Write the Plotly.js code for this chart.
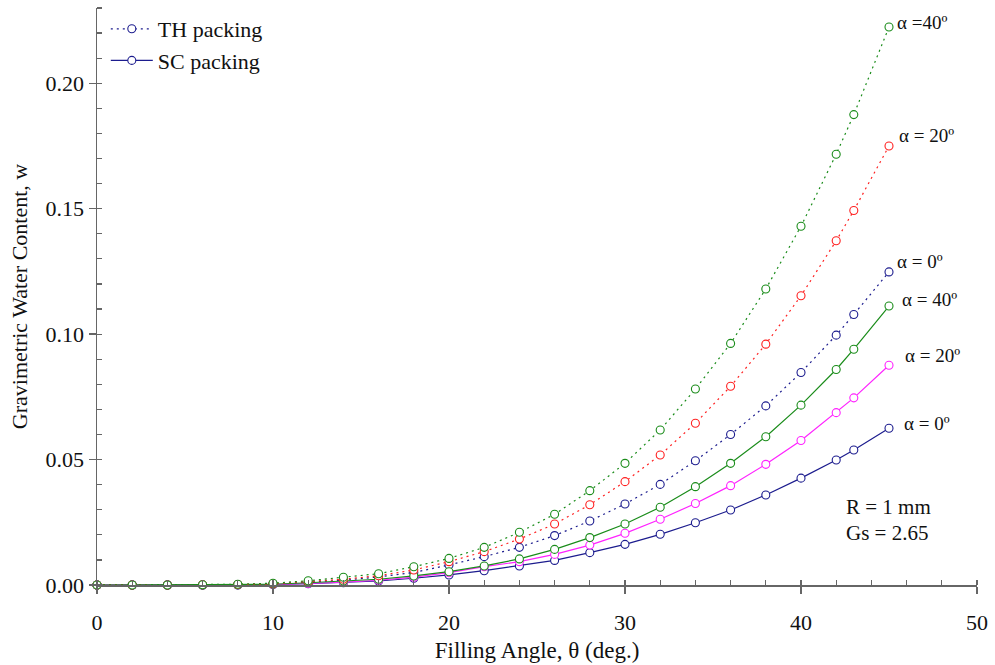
<!DOCTYPE html>
<html><head><meta charset="utf-8">
<script src="https://cdn.plot.ly/plotly-3.0.1.min.js"></script>
<style>html,body{margin:0;padding:0;background:#fff}#chart{width:995px;height:665px}</style>
</head><body><div id="chart"></div>
<script>
const theta = [0,2,4,6,8,10,12,14,16,18,20,22,24,26,28,30,32,34,36,38,40,42,43,45];
const th40 = [0,0,0,0.0001,0.0003,0.0007,0.0017,0.0031,0.0045,0.0073,0.0106,0.0150,0.0210,0.0282,0.0376,0.0485,0.0618,0.0781,0.0963,0.1180,0.1430,0.1717,0.1875,0.2224];
const th20 = [0,0,0,0.0001,0.0002,0.0005,0.0013,0.0023,0.0037,0.0060,0.0093,0.0133,0.0183,0.0243,0.0320,0.0412,0.0518,0.0645,0.0792,0.0960,0.1153,0.1372,0.1493,0.1750];
const th0  = [0,0,0,0,0.0001,0.0004,0.0010,0.0019,0.0032,0.0050,0.0080,0.0113,0.0150,0.0197,0.0255,0.0323,0.0401,0.0495,0.0600,0.0714,0.0847,0.0996,0.1078,0.1248];
const sc40 = [0,0,0,0,0.0001,0.0003,0.0009,0.0016,0.0023,0.0036,0.0053,0.0076,0.0104,0.0142,0.0189,0.0243,0.0310,0.0392,0.0485,0.0591,0.0717,0.0859,0.0940,0.1112];
const sc20 = [0,0,0,0,0.0001,0.0002,0.0006,0.0011,0.0019,0.0031,0.0049,0.0073,0.0093,0.0122,0.0159,0.0206,0.0262,0.0325,0.0396,0.0481,0.0576,0.0687,0.0746,0.0876];
const sc0  = [0,0,0,0,0,0.0002,0.0005,0.0009,0.0016,0.0027,0.0040,0.0057,0.0076,0.0098,0.0129,0.0162,0.0202,0.0248,0.0299,0.0359,0.0426,0.0498,0.0538,0.0625];
const labels = [
  {y: th40, text: "α =40º", dx: 6, dy: -5},
  {y: th20, text: "α = 20º", dx: 8, dy: -10},
  {y: th0,  text: "α = 0º", dx: 6, dy: -10},
  {y: sc40, text: "α = 40º", dx: 11, dy: -7},
  {y: sc20, text: "α = 20º", dx: 14, dy: -10},
  {y: sc0,  text: "α = 0º", dx: 13, dy: -5}
];
const NAVY = "#1c1c8e", GREEN = "#1a8c1a", RED = "#ff2020", MAG = "#ff22ff";
function tr(y, color, dash, name, show) {
  return {x: theta, y: y, type: "scatter", mode: "lines+markers", name: name, showlegend: show,
    cliponaxis: false,
    line: {color: color, width: 1.2, dash: dash},
    marker: {symbol: "circle", size: 8, color: "#fff", line: {width: 1.1, color: color}}};
}
const DOT = "2px,4px";
const data = [
  tr(th0, NAVY, DOT, "TH packing", true),
  tr(sc0, NAVY, "solid", "SC packing", true),
  tr(sc20, MAG, "solid", "", false),
  tr(sc40, GREEN, "solid", "", false),
  tr(th20, RED, DOT, "", false),
  tr(th40, GREEN, DOT, "", false)
];
const FAM = "'Liberation Serif', 'Times New Roman', serif";
const font = {family: FAM, size: 22, color: "#111"};
const ann = labels.map(l => ({x: 45, y: l.y[l.y.length-1], xref: "x", yref: "y", text: l.text,
  showarrow: false, xanchor: "left", yanchor: "middle", xshift: l.dx, yshift: -l.dy,
  font: {family: FAM, size: 19, color: "#111"}}));
ann.push({x: 0.849, y: 0.135, xref: "paper", yref: "paper", text: "R = 1 mm", showarrow: false, xanchor: "left", yanchor: "middle", font: {family: FAM, size: 21, color: "#111"}});
ann.push({x: 0.849, y: 0.09, xref: "paper", yref: "paper", text: "Gs = 2.65", showarrow: false, xanchor: "left", yanchor: "middle", font: {family: FAM, size: 21, color: "#111"}});
const axBase = {showgrid: false, zeroline: false, showline: true, linecolor: "#666", linewidth: 1.5,
  ticks: "outside", ticklen: 7, tickcolor: "#666", tickwidth: 1.3, tickfont: font};
const layout = {
  width: 995, height: 665, paper_bgcolor: "#fff", plot_bgcolor: "#fff",
  margin: {l: 97, r: 18, t: 8, b: 80},
  font: font,
  xaxis: Object.assign({}, axBase, {range: [0, 50], dtick: 10, tick0: 0, ticklabelstandoff: 10,
    minor: {dtick: 2, ticks: "inside", ticklen: 5, tickcolor: "#666", tickwidth: 1.2},
    title: {text: "Filling Angle, θ (deg.)", font: {family: FAM, size: 23, color: "#111"}, standoff: 8}}),
  yaxis: Object.assign({}, axBase, {range: [0, 0.23], dtick: 0.05, tick0: 0, tickformat: ".2f",
    minor: {dtick: 0.01, ticks: "inside", ticklen: 5, tickcolor: "#666", tickwidth: 1.2},
    title: {text: "Gravimetric Water Content, w", font: font, standoff: 12}}),
  legend: {x: 0.01, y: 1.0, xanchor: "left", yanchor: "top", bgcolor: "rgba(0,0,0,0)",
    itemwidth: 42, font: {family: FAM, size: 22, color: "#111"}},
  annotations: ann
};
Plotly.newPlot("chart", data, layout, {displayModeBar: false, staticPlot: true});
</script></body></html>
